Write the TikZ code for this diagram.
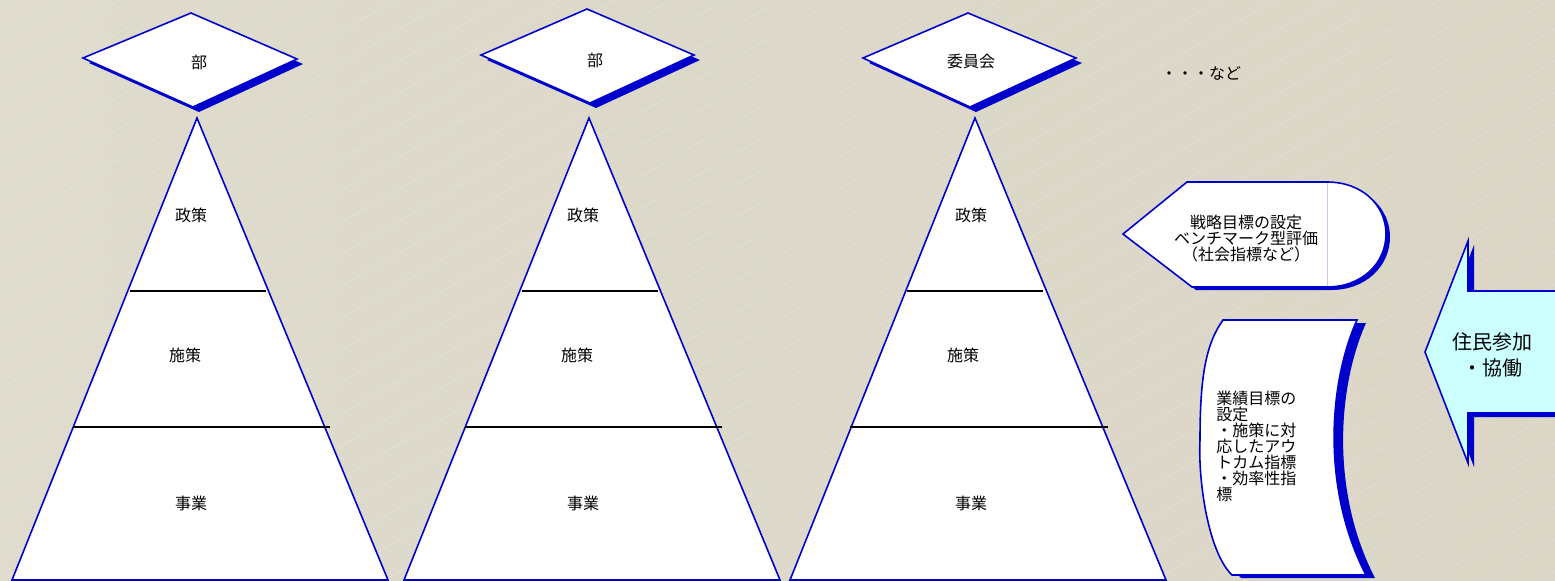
\documentclass[tikz,border=0pt]{standalone}
\usepackage{fontspec}
\newfontfamily\jp{Noto Sans CJK JP}
\definecolor{bl}{RGB}{0,0,204}
\definecolor{cyanf}{RGB}{204,255,255}
\definecolor{bgl}{RGB}{223,219,205}
\definecolor{bgm}{RGB}{231,227,216}
\definecolor{bgr}{RGB}{219,214,198}
\tikzset{
 shp/.style={draw=bl, line width=0.8pt, fill=white, line join=miter},
 shd/.style={fill=bl},
 sep/.style={draw=black, line width=0.8pt},
 lbl/.style={font=\jp\fontsize{8}{8}\selectfont, inner sep=0pt, text=black},
 big/.style={font=\jp\fontsize{10}{13}\selectfont, inner sep=0pt, text=black, align=center},
}
\begin{document}
\begin{tikzpicture}[x=0.5pt,y=-0.5pt]
\useasboundingbox (0,0) rectangle (1555,580);
\shade[left color=bgl, middle color=bgm, right color=bgr] (0,0) rectangle (1555,580);
\begin{scope}
\clip (0,0) rectangle (1555,580);
\foreach \i in {-1100,-1045,...,1560} \draw[white, opacity=0.25, line width=0.25pt] (\i,580) -- (\i+1000,0);
\end{scope}

% diamonds
\fill[shd, shift={(6,5)}] (191,13) -- (297,59) -- (193,107) -- (83,58) -- cycle;
\filldraw[shp] (191,13) -- (297,59) -- (193,107) -- (83,58) -- cycle;
\node[lbl] (d1) at (199,62) {部};

\fill[shd, shift={(6,5)}] (587,9) -- (694,55) -- (590,103) -- (481,55) -- cycle;
\filldraw[shp] (587,9) -- (694,55) -- (590,103) -- (481,55) -- cycle;
\node[lbl] (d2) at (595,60) {部};

\fill[shd, shift={(6,5)}] (968,13) -- (1076,58) -- (970,107) -- (863,58) -- cycle;
\filldraw[shp] (968,13) -- (1076,58) -- (970,107) -- (863,58) -- cycle;
\node[lbl] (d3) at (971,61) {委員会};

\node[lbl] (etc) at (1201,73) {・・・など};

% pyramids
\filldraw[shp] (197,118) -- (388,580) -- (12,580) -- cycle;
\draw[sep] (130,291) -- (266,291);
\draw[sep] (73,427) -- (330,427);
\node[lbl] (p1a) at (191,215) {政策};
\node[lbl] (p1b) at (185,355) {施策};
\node[lbl] (p1c) at (191,503) {事業};

\filldraw[shp] (589,118) -- (780,580) -- (404,580) -- cycle;
\draw[sep] (522,291) -- (658,291);
\draw[sep] (465,427) -- (722,427);
\node[lbl] (p2a) at (583,215) {政策};
\node[lbl] (p2b) at (577,355) {施策};
\node[lbl] (p2c) at (583,503) {事業};

\filldraw[shp] (975,118) -- (1166,580) -- (790,580) -- cycle;
\draw[sep] (907,291) -- (1043,291);
\draw[sep] (850,427) -- (1108,427);
\node[lbl] (p3a) at (971,215) {政策};
\node[lbl] (p3b) at (963,355) {施策};
\node[lbl] (p3c) at (971,503) {事業};

% display shape
\fill[shd, shift={(4,3)}] (1123,234) -- (1187,182) -- (1327,182) .. controls (1362,182) and (1386,205) .. (1386,234) .. controls (1386,263) and (1362,287) .. (1327,287) -- (1192,287) -- cycle;
\filldraw[shp] (1123,234) -- (1187,182) -- (1327,182) .. controls (1362,182) and (1386,205) .. (1386,234) .. controls (1386,263) and (1362,287) .. (1327,287) -- (1192,287) -- cycle;
\draw[bl!22, line width=0.4pt] (1327,183) -- (1327,286);
\node[lbl, align=center] (disp) at (1246,239) {戦略目標の設定\\ベンチマーク型評価\\（社会指標など）};

% scroll shape
\fill[shd, shift={(9,3)}] (1223,320) -- (1357,320) .. controls (1328,385) and (1322,490) .. (1366,575) -- (1232,575) .. controls (1208,552) and (1198,480) .. (1200,440) .. controls (1200,380) and (1205,345) .. (1223,320) -- cycle;
\filldraw[shp] (1223,320) -- (1357,320) .. controls (1328,385) and (1322,490) .. (1366,575) -- (1232,575) .. controls (1208,552) and (1198,480) .. (1200,440) .. controls (1200,380) and (1205,345) .. (1223,320) -- cycle;
\draw[bl, line width=1.2pt] (1278,320) -- (1291,320);
\node[lbl, anchor=north west, align=left] (scr) at (1216,391) {業績目標の\\設定\\・施策に対\\応したアウ\\トカム指標\\・効率性指\\標};

% arrow
\fill[shd, shift={(6,4)}] (1425,352) -- (1468,241) -- (1468,291) -- (1560,291) -- (1560,413) -- (1468,413) -- (1468,463) -- cycle;
\filldraw[shp, fill=cyanf] (1425,352) -- (1468,241) -- (1468,291) -- (1558,291) -- (1558,413) -- (1468,413) -- (1468,463) -- cycle;
\node[big] (part) at (1492,355) {住民参加\\・協働};
\end{tikzpicture}
\end{document}
